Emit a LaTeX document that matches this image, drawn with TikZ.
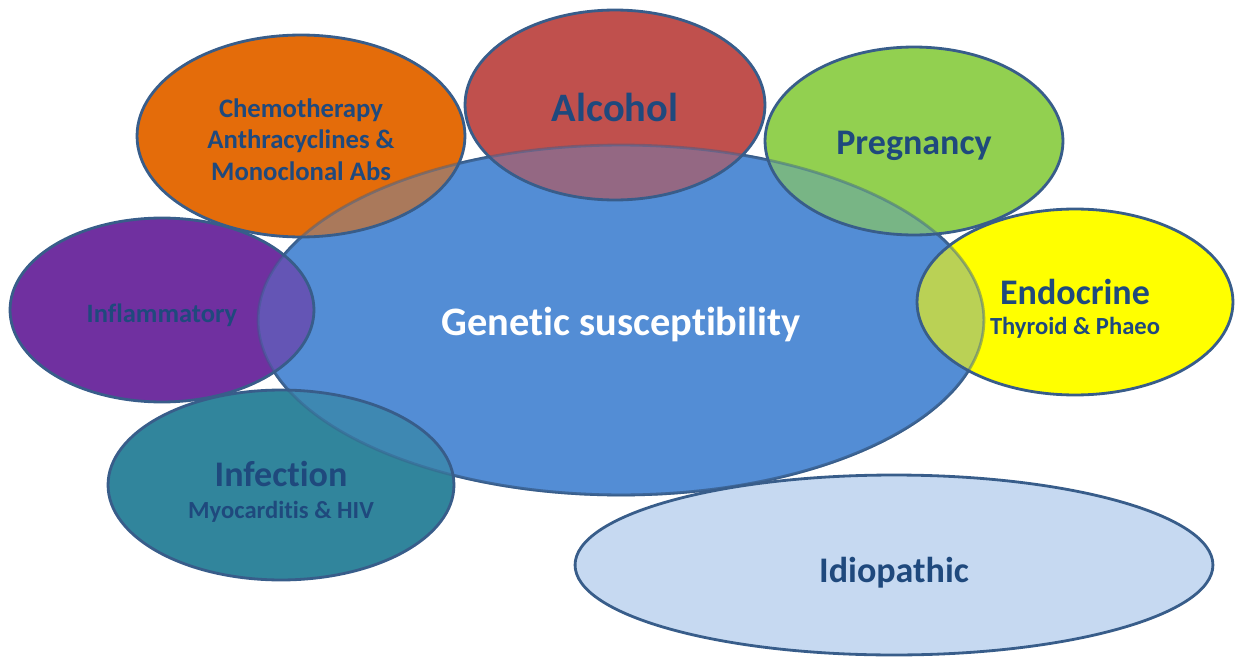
\documentclass[tikz,border=0pt]{standalone}
\usepackage{fontspec}
\setmainfont{Carlito}[Ligatures=NoCommon]
\usetikzlibrary{shapes.geometric}
\definecolor{rimblue}{HTML}{385D8A}
\definecolor{inkblue}{HTML}{1F497D}
\definecolor{genblue}{HTML}{538DD5}
\definecolor{chemoorange}{HTML}{E46C0A}
\definecolor{alcored}{HTML}{C0504D}
\definecolor{preggreen}{HTML}{92D050}
\definecolor{endoyellow}{HTML}{FFFF00}
\definecolor{inflpurple}{HTML}{7030A0}
\definecolor{infeteal}{HTML}{31859C}
\definecolor{idiolight}{HTML}{C6D9F1}
\newcommand{\subline}{\fontsize{14}{17}\selectfont\bfseries}
\tikzset{
    blob/.style = {ellipse, inner sep=0pt, align=center, text=inkblue},
    rim/.style = {draw=rimblue, line width=1.6pt},
    bigtext/.style = {font=\fontsize{20.5}{24}\selectfont\bfseries},
}

\begin{document}
\begin{tikzpicture}[x=0.02cm,y=-0.02cm]
\useasboundingbox (0,0) rectangle (1235,659);

% centre
\node[blob, rim, fill=genblue, minimum width=14.52cm, minimum height=7cm] (gen) at (621,320) {};

% satellites
\node[blob, text height=14.1pt, text depth=0pt, fill=inflpurple, minimum width=6.08cm, minimum height=3.68cm,
    font=\fontsize{15.1}{18}\selectfont\bfseries] (infl) at (162,310) {Inflammatory};
\node[blob, text height=50.3pt, fill=chemoorange, minimum width=6.56cm, minimum height=4.04cm,
    font=\fontsize{15.2}{17.6}\selectfont\bfseries] (chemo) at (301,136)
    {Chemotherapy\\[0.3pt] Anthracyclines \&\\[0.3pt] Monoclonal Abs};
\node[blob, text height=18.4pt, text depth=0pt, fill=alcored, minimum width=6cm, minimum height=3.8cm,
    font=\fontsize{23}{26}\selectfont\bfseries] (alco) at (615,105) {Alcohol};
\node[blob, text height=15.5pt, text depth=0pt, bigtext, fill=preggreen, minimum width=5.96cm, minimum height=3.76cm] (preg) at (914,141) {Pregnancy};
\node[blob, text height=39.1pt, bigtext, fill=endoyellow, minimum width=6.32cm, minimum height=3.72cm] (endo) at (1075,302)
    {Endocrine\\[-7pt] \subline Thyroid \& Phaeo};
\node[blob, text height=40.1pt, bigtext, fill=infeteal, minimum width=6.92cm, minimum height=3.8cm] (infe) at (281,485)
    {Infection\\[-6pt] \subline Myocarditis \& HIV};
\node[blob, text height=19.9pt, text depth=0pt, bigtext, fill=idiolight, minimum width=12.76cm, minimum height=3.6cm] (idio) at (894,565) {Idiopathic};

% blue shows through where it is overlapped
\path[fill=genblue, fill opacity=.4, draw=rimblue, draw opacity=.45, line width=1.6pt]
    (gen.center) ellipse [x radius=7.26cm, y radius=3.5cm];
\foreach \n/\rx/\ry in {infl/3.04/1.84, chemo/3.28/2.02, alco/3.0/1.9, preg/2.98/1.88,
    endo/3.16/1.86, infe/3.46/1.9, idio/6.38/1.8}
    \draw[rim] (\n.center) ellipse [x radius=\rx cm, y radius=\ry cm];

\node[text=white, text depth=0pt, font=\fontsize{23}{27}\selectfont\bfseries] (genlabel) at (621,321) {Genetic susceptibility};

\end{tikzpicture}
\end{document}
